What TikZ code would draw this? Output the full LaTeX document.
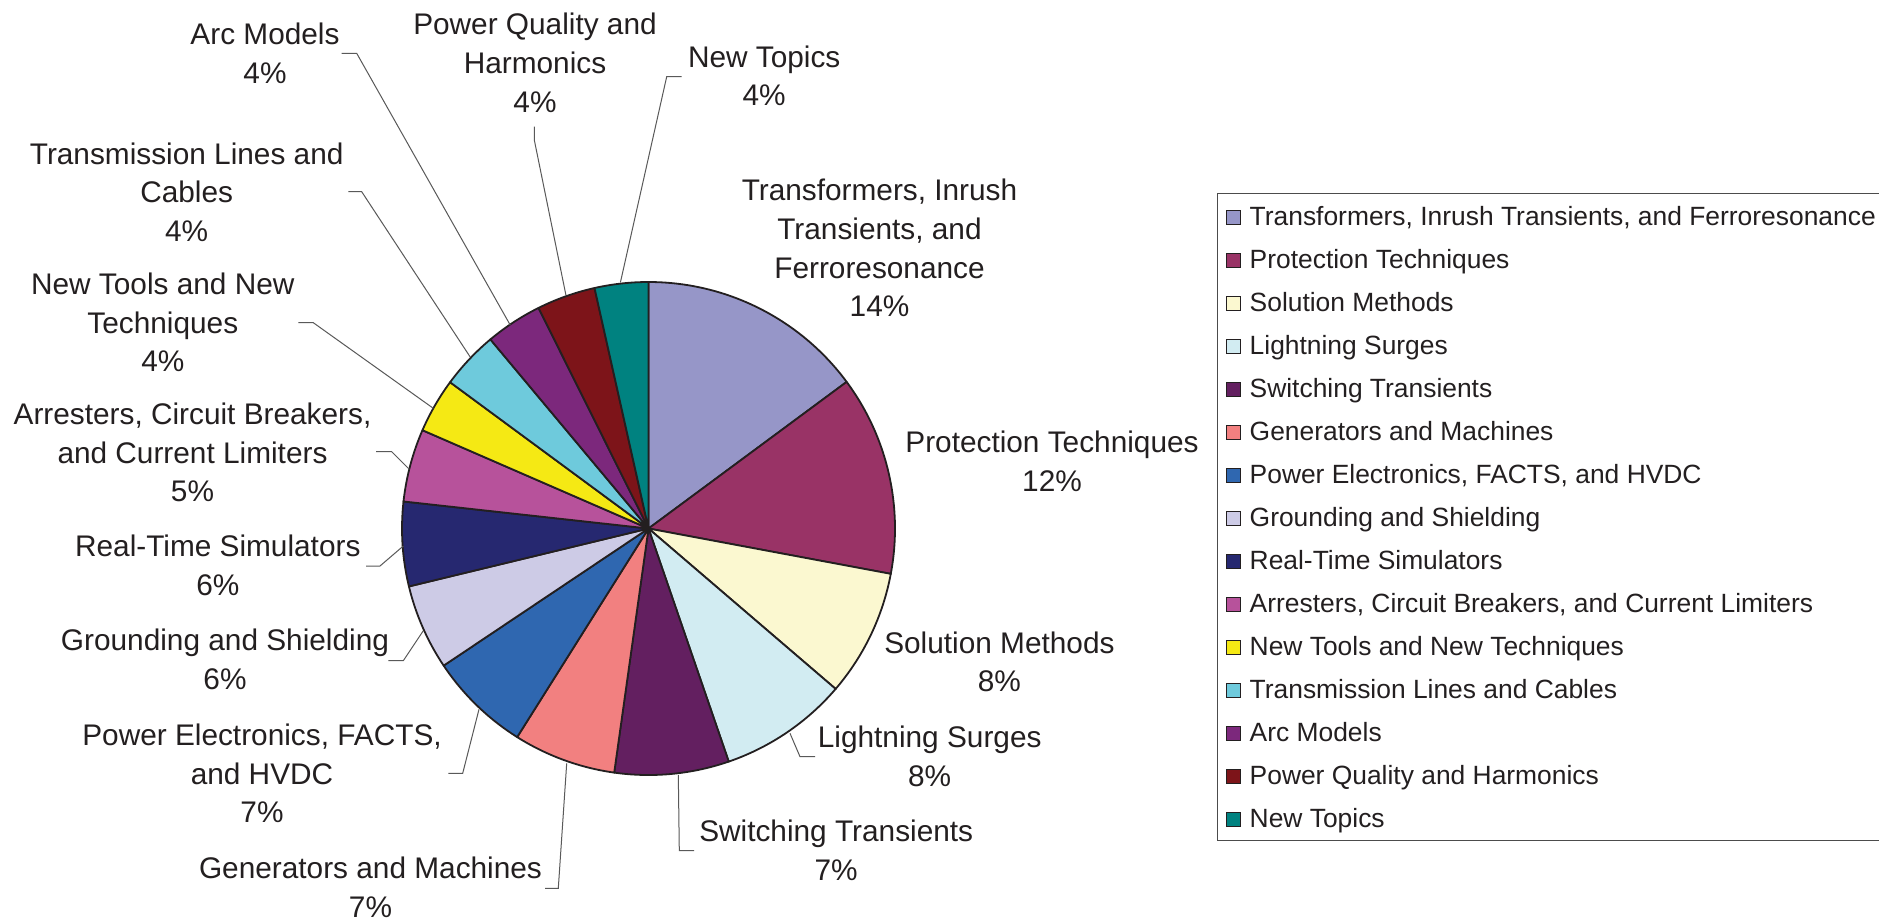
\documentclass[tikz,border=0pt]{standalone}
\usepackage{fontspec}
\setmainfont{Liberation Sans}
\definecolor{ink}{RGB}{35,31,32}
\definecolor{c1}{RGB}{150,150,200}
\definecolor{c2}{RGB}{153,51,102}
\definecolor{c3}{RGB}{251,248,208}
\definecolor{c4}{RGB}{210,236,242}
\definecolor{c5}{RGB}{99,31,96}
\definecolor{c6}{RGB}{242,128,128}
\definecolor{c7}{RGB}{47,103,176}
\definecolor{c8}{RGB}{205,203,230}
\definecolor{c9}{RGB}{38,40,112}
\definecolor{c10}{RGB}{183,82,155}
\definecolor{c11}{RGB}{245,233,20}
\definecolor{c12}{RGB}{110,202,220}
\definecolor{c13}{RGB}{124,40,124}
\definecolor{c14}{RGB}{125,20,25}
\definecolor{c15}{RGB}{0,130,128}
\tikzset{
  lbl/.style={font=\fontsize{29.8}{38.6}\selectfont, text=ink, align=center, inner sep=0pt, anchor=base},
  leg/.style={font=\fontsize{26.4}{30}\selectfont, text=ink, inner sep=0pt, anchor=base west},
  swatch/.style={draw=ink, line width=1pt, minimum size=14.5pt, inner sep=0pt},
  slice/.style={draw=ink, line width=1.8pt, line join=round},
  leader/.style={draw=black!65, line width=1pt},
}
\begin{document}
\begin{tikzpicture}[x=1pt,y=-1pt]
\useasboundingbox (0,0) rectangle (1879,922);
\fill[white] (0,0) rectangle (1879,922);

% ---- pie ----
\coordinate (center) at (648.5,528.5);
\begin{scope}[shift={(648.5,528.5)}, y=1pt]
\foreach \a/\b/\col in {90/36.5/c1, 36.5/-10.6/c2, -10.6/-40.6/c3, -40.6/-71/c4,
  -71/-98/c5, -98/-122.2/c6, -122.2/-146.2/c7, -146.2/-166.4/c8, -166.4/-186.3/c9,
  -186.3/-203.5/c10, -203.5/-216.4/c11, -216.4/-230.1/c12, -230.1/-243.5/c13,
  -243.5/-257.35/c14, -257.35/-270/c15}
  \filldraw[slice, fill=\col] (0,0) -- (\a:246.5pt) arc[start angle=\a, end angle=\b, radius=246.5pt] -- cycle;
\end{scope}

% ---- data labels (anchor = baseline of the last line) ----
\node[lbl] (tTrans) at (879.5,316.7) {Transformers, Inrush\\Transients, and\\Ferroresonance\\14\%};
\node[lbl] (tProt) at (1052,491) {Protection Techniques\\12\%};
\node[lbl] (tSol) at (999.4,691.7) {Solution Methods\\8\%};
\node[lbl] (tLight) at (929.7,786) {Lightning Surges\\8\%};
\node[lbl] (tSwitch) at (836.2,880) {Switching Transients\\7\%};
\node[lbl] (tGen) at (370.5,917) {Generators and Machines\\7\%};
\node[lbl] (tPE) at (262,822.7) {Power Electronics, FACTS,\\and HVDC\\7\%};
\node[lbl] (tGround) at (225,689.3) {Grounding and Shielding\\6\%};
\node[lbl] (tRT) at (217.8,595) {Real-Time Simulators\\6\%};
\node[lbl] (tArr) at (192.5,501.7) {Arresters, Circuit Breakers,\\and Current Limiters\\5\%};
\node[lbl] (tTools) at (162.8,371.7) {New Tools and New\\Techniques\\4\%};
\node[lbl] (tTL) at (186.7,241.2) {Transmission Lines and\\Cables\\4\%};
\node[lbl] (tArc) at (265,83) {Arc Models\\4\%};
\node[lbl] (tPQ) at (535,112) {Power Quality and\\Harmonics\\4\%};
\node[lbl] (tTop) at (764.2,105.7) {New Topics\\4\%};

% ---- leader lines ----
\coordinate (aLight) at (790,733.3);   \coordinate (eLight) at (815,756.7);
\coordinate (aSwitch) at (678.3,775);  \coordinate (eSwitch) at (694,850.7);
\coordinate (aGen) at (566.7,763.3);   \coordinate (eGen) at (545,888.3);
\coordinate (aPE) at (479,709.3);      \coordinate (ePE) at (448.3,773.3);
\coordinate (aGround) at (423.3,630.7);\coordinate (eGround) at (388.3,660.7);
\coordinate (aRT) at (403.3,546);      \coordinate (eRT) at (366,566);
\coordinate (aArr) at (409.3,469.3);   \coordinate (eArr) at (376,451.7);
\coordinate (aTools) at (433.3,408.3); \coordinate (eTools) at (298.3,322.7);
\coordinate (aTL) at (470.2,357);      \coordinate (eTL) at (348.3,191.7);
\coordinate (aArc) at (510.2,325);     \coordinate (eArc) at (341.7,53.3);
\coordinate (aPQ) at (566,295.5);      \coordinate (ePQ) at (534.3,126.7);
\coordinate (aTop) at (620.4,282.4);   \coordinate (eTop) at (681.7,76.7);

\draw[leader] (aLight) -- (800,756.7) -- (eLight);
\draw[leader] (aSwitch) -- (679.3,850.7) -- (eSwitch);
\draw[leader] (aGen) -- (558.3,888.3) -- (eGen);
\draw[leader] (aPE) -- (462.7,773.3) -- (ePE);
\draw[leader] (aGround) -- (403.3,660.7) -- (eGround);
\draw[leader] (aRT) -- (380,566) -- (eRT);
\draw[leader] (aArr) -- (391.7,451.7) -- (eArr);
\draw[leader] (aTools) -- (313.3,322.7) -- (eTools);
\draw[leader] (aTL) -- (361.7,191.7) -- (eTL);
\draw[leader] (aArc) -- (356.7,53.3) -- (eArc);
\draw[leader] (aPQ) -- (534.3,140) -- (ePQ);
\draw[leader] (aTop) -- (666.7,76.7) -- (eTop);

% ---- legend ----
\draw[draw=black!70, line width=1pt] (1879,193) -- (1217,193) -- (1217,840) -- (1879,840);
\foreach \i/\col/\txt in {
  0/c1/{Transformers, Inrush Transients, and Ferroresonance},
  1/c2/{Protection Techniques},
  2/c3/{Solution Methods},
  3/c4/{Lightning Surges},
  4/c5/{Switching Transients},
  5/c6/{Generators and Machines},
  6/c7/{Power Electronics, FACTS, and HVDC},
  7/c8/{Grounding and Shielding},
  8/c9/{Real-Time Simulators},
  9/c10/{Arresters, Circuit Breakers, and Current Limiters},
  10/c11/{New Tools and New Techniques},
  11/c12/{Transmission Lines and Cables},
  12/c13/{Arc Models},
  13/c14/{Power Quality and Harmonics},
  14/c15/{New Topics}}{
  \node[swatch, fill=\col] (sq\i) at (1233.3,217.5+43*\i) {};
  \node[leg] (lg\i) at (1249.5,225+43*\i) {\txt};
}
\end{tikzpicture}
\end{document}
